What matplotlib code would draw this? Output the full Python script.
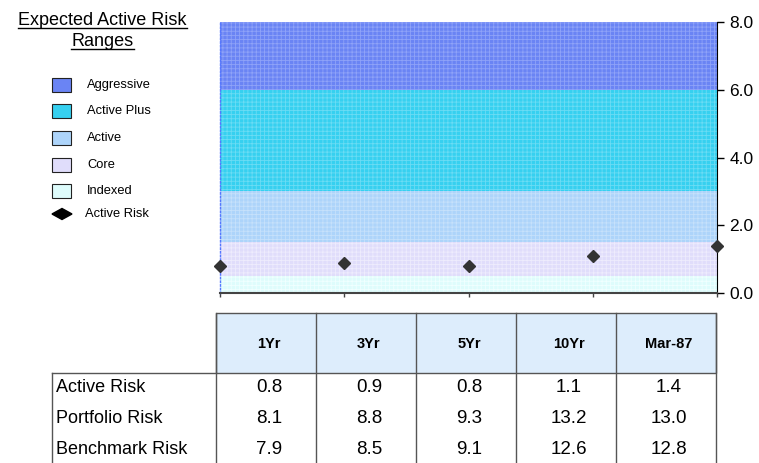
import numpy as np
import matplotlib
matplotlib.use("Agg")
import matplotlib.pyplot as plt
from matplotlib.patches import Rectangle, Polygon
from matplotlib.lines import Line2D

plt.rcParams['font.family'] = ['Liberation Sans', 'DejaVu Sans']
plt.rcParams['hatch.linewidth'] = 0.6

# risk bands (lower / upper bound, fill + lighter texture)
band_names = ['Aggressive', 'Active Plus', 'Active', 'Core', 'Indexed']
band_lo = [6.0, 3.0, 1.5, 0.5, 0.0]
band_hi = [8.0, 6.0, 3.0, 1.5, 0.5]
band_face = ['#6a84f4', '#36d0f0', '#add4fa', '#e0ddfb', '#defcfc']
band_tex = ['#8fa3f8', '#6bdcf4', '#c6e1fb', '#eeecfd', '#f0ffff']

periods = ['1Yr', '3Yr', '5Yr', '10Yr', 'Mar-87']
active_risk = [0.8, 0.9, 0.8, 1.1, 1.4]
portfolio_risk = [8.1, 8.8, 9.3, 13.2, 13.0]
benchmark_risk = [7.9, 8.5, 9.1, 12.6, 12.8]
row_labels = ['Active Risk', 'Portfolio Risk', 'Benchmark Risk']

W, H = 759, 463
fig = plt.figure(figsize=(W / 100, H / 100), dpi=100)

# pixel box of the chart area
ax_l, ax_r, ax_t, ax_b = 220, 717, 22, 293
ax = fig.add_axes([ax_l / W, 1 - ax_b / H, (ax_r - ax_l) / W, (ax_b - ax_t) / H])

for lo, hi, fc, tc in zip(band_lo, band_hi, band_face, band_tex):
    ax.axhspan(lo, hi, facecolor=fc, edgecolor=tc, hatch='++++', linewidth=0, zorder=0)
ax.set_xlim(0, len(periods) - 1)
ax.set_ylim(0, 8)

ax.plot(np.arange(len(periods)), active_risk, linestyle='none', marker='D',
        markersize=6.5, color='#333333', zorder=5, clip_on=False)

ax.spines['top'].set_visible(False)
ax.spines['left'].set_color('#5577ff')
ax.spines['left'].set_linestyle(':')
ax.spines['left'].set_linewidth(1)
ax.spines['right'].set_color('black')
ax.spines['bottom'].set_color('#444444')
ax.spines['bottom'].set_linewidth(1.5)

ax.yaxis.tick_right()
ax.set_yticks([0, 2, 4, 6, 8])
ax.set_yticklabels(['%.1f' % v for v in [0, 2, 4, 6, 8]])
ax.tick_params(axis='y', direction='out', length=5, width=1, pad=4, labelsize=12.5)
ax.set_xticks(np.arange(len(periods)))
ax.set_xticklabels([])
ax.tick_params(axis='x', direction='out', length=3, width=1, color='#444444')

# overlay in pixel coordinates for the legend and the table
ov = fig.add_axes([0, 0, 1, 1], zorder=-1)
ov.set_xlim(0, W)
ov.set_ylim(H, 0)
ov.axis('off')

# title, underlined
t1 = ov.text(102.5, 25, 'Expected Active Risk', ha='center', va='baseline', fontsize=13)
t2 = ov.text(102.5, 46, 'Ranges', ha='center', va='baseline', fontsize=13)

# legend
leg_y = [85, 111, 138, 165, 191]
for name, y, fc, tc in zip(band_names, leg_y, band_face, band_tex):
    ov.add_patch(Rectangle((52, y - 7), 19, 14, facecolor=fc, edgecolor='#222222',
                           linewidth=0.8))
    ov.text(87, y, name, ha='left', va='center', fontsize=9.3)
ov.add_patch(Polygon([[52, 214], [62, 208.5], [72, 214], [62, 219.5]], closed=True,
                     facecolor='black', edgecolor='black'))
ov.text(85, 214, 'Active Risk', ha='left', va='center', fontsize=9.3)

# table
col_x = [216 + 100 * i for i in range(len(periods) + 1)]
head_top, head_bot = 313, 373
ov.add_patch(Rectangle((col_x[0], head_top), col_x[-1] - col_x[0], head_bot - head_top,
                       facecolor='#ddedfc', edgecolor='#555555', linewidth=1))
for i, p in enumerate(periods):
    cx = (col_x[i] + col_x[i + 1]) / 2 + 3
    ov.text(cx, (head_top + head_bot) / 2 + 1, p, ha='center', va='center',
            fontsize=10.5, fontweight='bold')
for x in col_x:
    ov.add_line(Line2D([x, x], [head_top, H], color='#555555', linewidth=1))
ov.add_line(Line2D([52, col_x[0]], [head_bot, head_bot], color='#555555', linewidth=1))
ov.add_line(Line2D([52, 52], [head_bot, H], color='#555555', linewidth=1))

row_y = [388, 418.5, 449]
for label, y, vals in zip(row_labels, row_y, [active_risk, portfolio_risk, benchmark_risk]):
    ov.text(56, y, label, ha='left', va='center', fontsize=13)
    for i, v in enumerate(vals):
        cx = (col_x[i] + col_x[i + 1]) / 2 + 3
        ov.text(cx, y, '%.1f' % v, ha='center', va='center', fontsize=13.5)

# underline the title lines
fig.canvas.draw()
r = fig.canvas.get_renderer()
for t, base in [(t1, 25), (t2, 46)]:
    bb = t.get_window_extent(r)
    ov.add_line(Line2D([bb.x0, bb.x1], [base + 3, base + 3], color='black', linewidth=1))

fig.savefig('out.png', dpi=100)
